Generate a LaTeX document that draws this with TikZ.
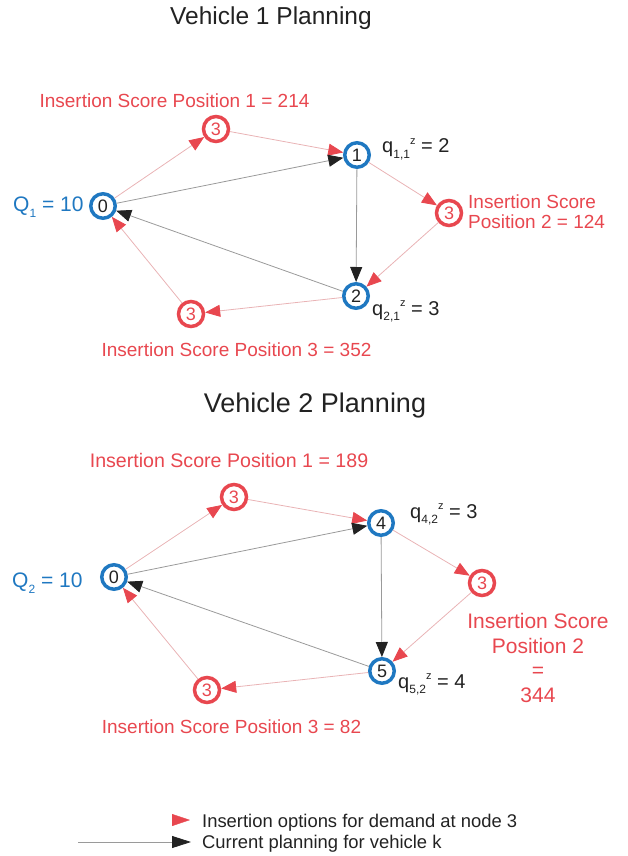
\documentclass[tikz,border=0pt]{standalone}
\usepackage{fontspec}
\setmainfont{Liberation Sans}
\usetikzlibrary{arrows.meta}
\definecolor{nodeblue}{HTML}{1F78C1}
\definecolor{insred}{HTML}{E8474F}
\definecolor{inslight}{HTML}{E9B3B5}
\definecolor{planline}{HTML}{9A9A9A}
\definecolor{ink}{HTML}{222222}
\newcommand\fs[1]{\fontsize{#1}{#1}\selectfont}
\newcommand\lowtxt[1]{\raisebox{-0.55ex}{\fontsize{12}{12}\selectfont #1}}
\newcommand\hightxt[1]{\raisebox{0.85ex}{\fontsize{11}{11}\selectfont #1}}

\begin{document}
\begin{tikzpicture}[x=1pt,y=-1pt,
  stop/.style={circle, draw=nodeblue, line width=3.5pt, minimum size=24.5pt,
    inner sep=0pt, font=\fs{18}, text=ink},
  cand/.style={circle, draw=insred, line width=3.5pt, minimum size=25pt,
    inner sep=0pt, font=\fs{18}, text=insred},
  title/.style={font=\fs{24.5}, text=ink, anchor=base, inner sep=0pt},
  score/.style={font=\fs{19}, text=insred, inner sep=0pt},
  demand/.style={font=\fs{20}, text=ink, anchor=base west, inner sep=0pt},
  capacity/.style={font=\fs{21}, text=nodeblue, anchor=base west, inner sep=0pt},
  legendtext/.style={font=\fs{18.4}, text=ink, anchor=base west, inner sep=0pt},
  insopt/.style={draw=inslight, line width=0.8pt,
    -{Triangle[length=15pt,width=12pt,color=insred]}},
  plan/.style={draw=planline, line width=0.8pt,
    -{Triangle[length=15pt,width=12pt,color=ink]}},
]
\useasboundingbox (0,0) rectangle (628,856);

% ---------------- Vehicle 1 ----------------
\node[title] (t1) at (271,25) {Vehicle 1 Planning};

\node[stop] (v1n0) at (103,206) {0};
\node[stop] (v1n1) at (357,155) {1};
\node[stop] (v1n2) at (356,296) {2};
\node[cand] (v1c1) at (216,129) {3};
\node[cand] (v1c2) at (449,213) {3};
\node[cand] (v1c3) at (191,314) {3};

\node[capacity] (v1q) at (13,211) {Q\lowtxt{1} = 10};
\node[demand] (v1d1) at (382,153) {q\lowtxt{1,1}\hightxt{z} = 2};
\node[demand] (v1d2) at (372,315) {q\lowtxt{2,1}\hightxt{z} = 3};

\node[score, anchor=base] (v1s1) at (174.5,107) {Insertion Score Position 1 = 214};
% multi-line labels are anchored at the baseline of their last line
\node[score, anchor=base west, align=left] (v1s2) at (468,228)
  {Insertion Score\\[1pt]Position 2 = 124};
\node[score, anchor=base] (v1s3) at (236.5,356) {Insertion Score Position 3 = 352};

\draw[insopt] (v1n0) -- (v1c1);
\draw[insopt] (v1c1) -- (v1n1);
\draw[plan]   (v1n0) -- (v1n1);
\draw[plan]   (v1n1) -- (v1n2);
\draw[insopt] (v1n1) -- (v1c2);
\draw[insopt] (v1c2) -- (v1n2);
\draw[plan]   (v1n2) -- (v1n0);
\draw[insopt] (v1n2) -- (v1c3);
\draw[insopt] (v1c3) -- (v1n0);

% ---------------- Vehicle 2 ----------------
\node[title, font=\fs{27}] (t2) at (315,412) {Vehicle 2 Planning};

\node[stop] (v2n0) at (114,577) {0};
\node[stop] (v2n4) at (381,523) {4};
\node[stop] (v2n5) at (382,671) {5};
\node[cand] (v2c1) at (234,497) {3};
\node[cand] (v2c2) at (482,583) {3};
\node[cand] (v2c3) at (207,690) {3};

\node[capacity] (v2q) at (12,587) {Q\lowtxt{2} = 10};
\node[demand] (v2d4) at (410,518) {q\lowtxt{4,2}\hightxt{z} = 3};
\node[demand] (v2d5) at (398,688) {q\lowtxt{5,2}\hightxt{z} = 4};

\node[score, anchor=base, font=\fs{19.6}] (v2s1) at (229,467) {Insertion Score Position 1 = 189};
\node[score, anchor=base, align=center, font=\fs{21}] (v2s2) at (538,702)
  {Insertion Score\\[3.5pt]Position 2\\[3.5pt]=\\[3.5pt]344};
\node[score, anchor=base] (v2s3) at (231.5,733) {Insertion Score Position 3 = 82};

\draw[insopt] (v2n0) -- (v2c1);
\draw[insopt] (v2c1) -- (v2n4);
\draw[plan]   (v2n0) -- (v2n4);
\draw[plan]   (v2n4) -- (v2n5);
\draw[insopt] (v2n4) -- (v2c2);
\draw[insopt] (v2c2) -- (v2n5);
\draw[plan]   (v2n5) -- (v2n0);
\draw[insopt] (v2n5) -- (v2c3);
\draw[insopt] (v2c3) -- (v2n0);

% ---------------- Legend ----------------
\coordinate (lr1) at (172,820);
\coordinate (lr2) at (190,820);
\coordinate (lb1) at (78,842);
\coordinate (lb2) at (191,842);
\draw[insred, -{Triangle[length=18pt,width=12pt]}] (lr1) -- (lr2);
\draw[planline, line width=0.8pt, -{Triangle[length=19pt,width=12pt,color=ink]}] (lb1) -- (lb2);
\node[legendtext] (lt1) at (202,827) {Insertion options for demand at node 3};
\node[legendtext] (lt2) at (202,848) {Current planning for vehicle k};
\end{tikzpicture}
\end{document}
